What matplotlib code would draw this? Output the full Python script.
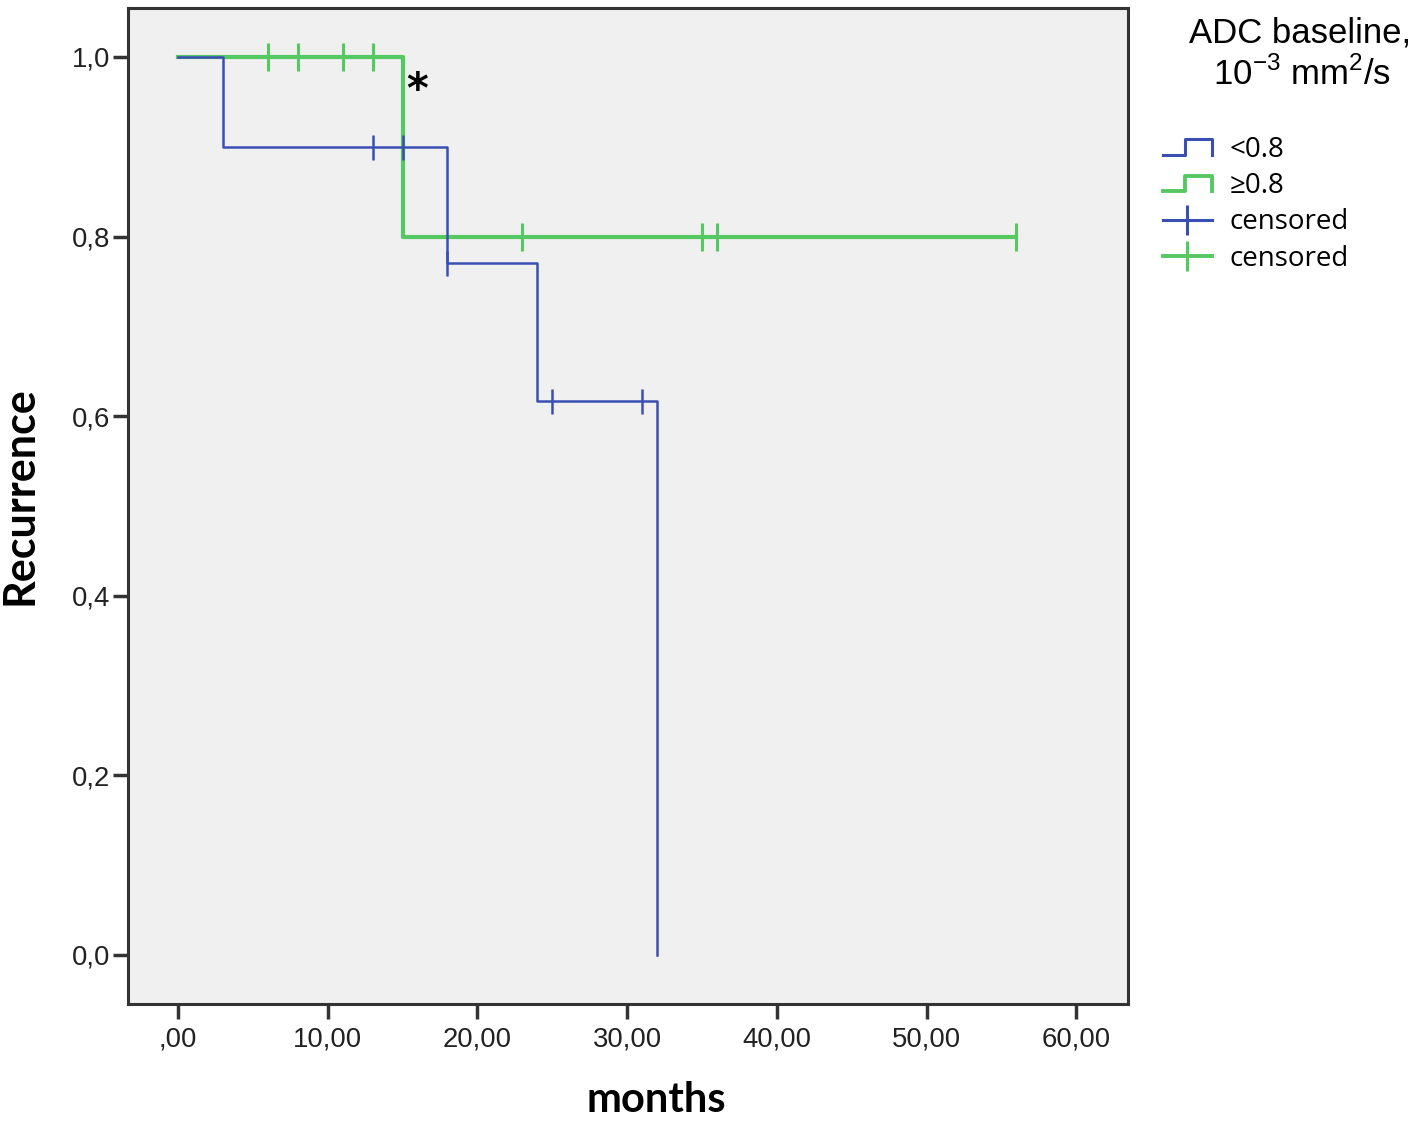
import numpy as np
import matplotlib
matplotlib.use('Agg')
import matplotlib.pyplot as plt
from matplotlib.lines import Line2D
from matplotlib.legend_handler import HandlerBase
from matplotlib.ticker import FuncFormatter

plt.rcParams['mathtext.fontset'] = 'custom'
plt.rcParams['mathtext.rm'] = 'Liberation Sans'

# Kaplan-Meier: время (мес) и доля без рецидива
blue_t = [0, 3, 18, 24, 32]
blue_s = [1.0, 0.9, 0.771, 0.617, 0.0]
green_t = [0, 15, 56]
green_s = [1.0, 0.8, 0.8]

# цензурированные наблюдения
blue_cens_t = [13, 15, 18, 25, 31]
blue_cens_s = [0.9, 0.9, 0.771, 0.617, 0.617]
green_cens_t = [6, 8, 11, 13, 23, 35, 36, 56]
green_cens_s = [1.0, 1.0, 1.0, 1.0, 0.8, 0.8, 0.8, 0.8]

x_ticks = [0, 10, 20, 30, 40, 50, 60]
y_ticks = [0.0, 0.2, 0.4, 0.6, 0.8, 1.0]
group_labels = ['<0.8', '≥0.8', 'censored', 'censored']

blue = '#3a4fb3'
green = '#55c862'


class StepHandler(HandlerBase):
    # значок легенды в виде ступеньки, как в SPSS
    def create_artists(self, legend, orig_handle, xdescent, ydescent, width, height, fontsize, trans):
        x0 = -xdescent
        y0 = -ydescent
        xs = [x0, x0 + width * 0.45, x0 + width * 0.45, x0 + width, x0 + width]
        ys = [y0 + height * 0.1, y0 + height * 0.1, y0 + height * 0.9, y0 + height * 0.9, y0 + height * 0.1]
        ln = Line2D(xs, ys, color=orig_handle.get_color(), lw=orig_handle.get_linewidth())
        ln.set_transform(trans)
        return [ln]


fig = plt.figure(figsize=(14.18, 11.22), dpi=100)
ax = fig.add_axes([0.0903, 0.1052, 0.7052, 0.8877])
ax.set_facecolor('#f0f0f0')

l1, = ax.step(blue_t, blue_s, where='post', color=blue, lw=1.8, zorder=3)
l2, = ax.step(green_t, green_s, where='post', color=green, lw=3.0, zorder=2)
c1, = ax.plot(blue_cens_t, blue_cens_s, ls='none', marker='|', ms=18, mew=1.8, color=blue, zorder=4)
c2, = ax.plot(green_cens_t, green_cens_s, ls='none', marker='|', ms=20, mew=2.2, color=green, zorder=4)

ax.text(16.0, 0.962, '*', fontsize=30, ha='center', va='center', fontweight='bold', family='DejaVu Sans')

ax.set_xlim(-3.34, 63.46)
ax.set_ylim(-0.0546, 1.0546)
ax.set_xticks(x_ticks)
ax.set_yticks(y_ticks)


def fmt_x(v, pos):
    s = f"{v:.2f}".replace('.', ',')
    if s.startswith('0,'):
        s = s[1:]
    return s


ax.xaxis.set_major_formatter(FuncFormatter(fmt_x))
ax.yaxis.set_major_formatter(FuncFormatter(lambda v, pos: f"{v:.1f}".replace('.', ',')))
ax.tick_params(axis='both', length=11, width=2.5, color='#333333', labelsize=19.8)
ax.tick_params(axis='x', pad=5)
ax.tick_params(axis='y', pad=2)
for lab in ax.get_xticklabels() + ax.get_yticklabels():
    lab.set_family('Liberation Sans')
    lab.set_color('#222222')
for sp in ax.spines.values():
    sp.set_color('#333333')
    sp.set_linewidth(2.2)

ax.set_xlabel('months', fontsize=30, fontweight='bold', family='Lato')
ax.set_ylabel('Recurrence', fontsize=31, fontweight='bold', family='Lato')
ax.xaxis.set_label_coords(0.528, -0.077)
ax.yaxis.set_label_coords(-0.089, 0.51)

fig.text(0.917, 0.971, 'ADC baseline,', fontsize=25, family='Liberation Sans', ha='center', va='center')
fig.text(0.918, 0.934, r'10$^{\mathregular{-3}}$ mm$^{\mathregular{2}}$/s', fontsize=25,
         family='Liberation Sans', ha='center', va='center')

leg_handles = [
    Line2D([], [], color=blue, lw=2.2),
    Line2D([], [], color=green, lw=2.8),
    Line2D([0], [0], color=blue, lw=2.2, marker='|', ms=22, mew=2.2),
    Line2D([0], [0], color=green, lw=2.8, marker='|', ms=22, mew=2.2),
]
leg = fig.legend(leg_handles, group_labels, loc='upper left', bbox_to_anchor=(0.8202, 0.879),
                 frameon=False, handlelength=1.76, handletextpad=0.65, labelspacing=0.3,
                 borderpad=0, borderaxespad=0,
                 prop={'family': 'Open Sans', 'size': 20},
                 handler_map={leg_handles[0]: StepHandler(), leg_handles[1]: StepHandler()})

fig.savefig('out.png', dpi=100)
